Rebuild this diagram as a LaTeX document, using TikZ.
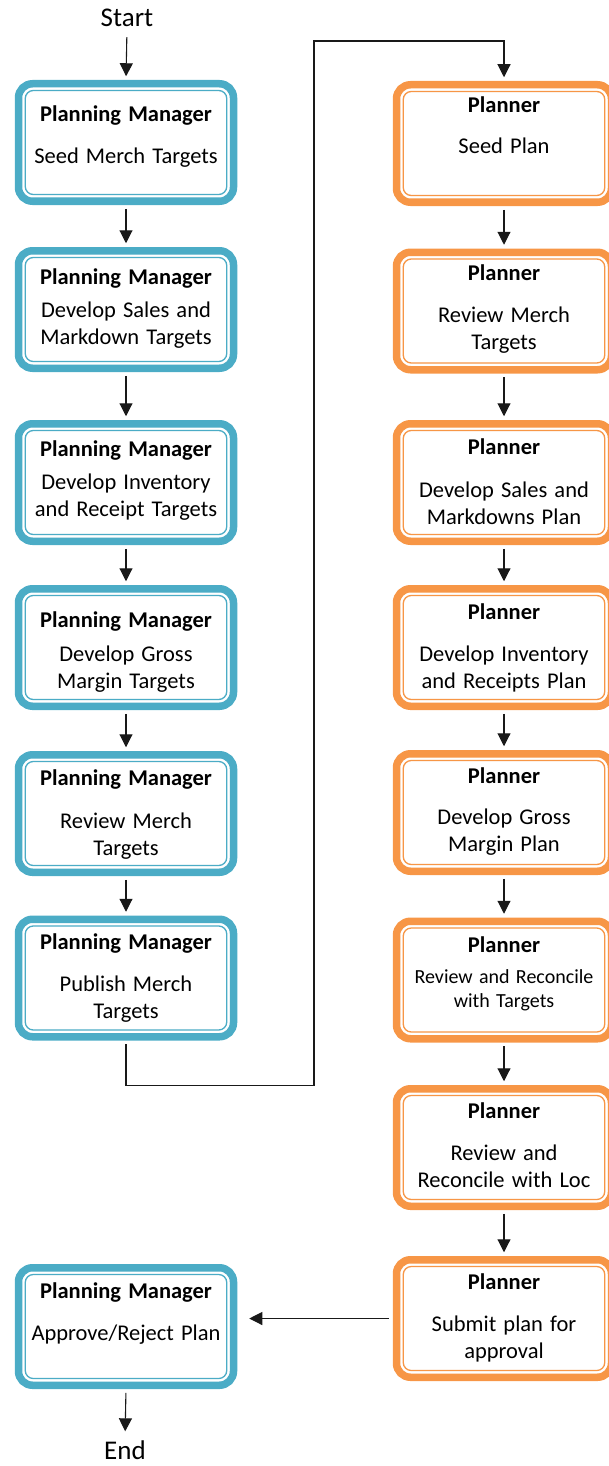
\documentclass[tikz,border=0pt]{standalone}
\usepackage{fontspec}
\setmainfont{Carlito}[WordSpace=1.4]
\usepackage{tikz}
\usetikzlibrary{arrows.meta}

\definecolor{mgrblue}{HTML}{4BACC6}
\definecolor{planorange}{HTML}{F79646}

% top space, title, gap, body
\newcommand{\boxtext}[4]{%
\begin{minipage}[c][117.5pt][t]{215pt}\centering
\vspace*{#1}\strut\textbf{#2}\\[#3]#4
\end{minipage}}

\begin{document}
\begin{tikzpicture}[x=1pt,y=-1pt]
\tikzstyle{stage} = [rectangle, rounded corners=14pt, line width=7.5pt, fill=white, inner sep=0pt, font=\fontsize{22.5}{27}\selectfont]
\tikzstyle{manager} = [stage, draw=mgrblue,
    path picture={\draw[line width=1.3pt, rounded corners=8pt, draw=mgrblue, fill=none]
        ([shift={(6.75pt,-6.75pt)}]path picture bounding box.north west) rectangle
        ([shift={(-6.75pt,6.75pt)}]path picture bounding box.south east);}]
\tikzstyle{planner} = [stage, draw=planorange,
    path picture={\draw[line width=1.3pt, rounded corners=8pt, draw=planorange, fill=none]
        ([shift={(6.75pt,-6.75pt)}]path picture bounding box.north west) rectangle
        ([shift={(-6.75pt,6.75pt)}]path picture bounding box.south east);}]
\tikzstyle{flow} = [draw=black!90, line width=1.1pt, -{Triangle[length=13pt,width=13pt]}, shorten <=3.75pt, shorten >=3.75pt]
\tikzstyle{term} = [font=\fontsize{27}{30}\selectfont, inner sep=1pt]

\useasboundingbox (0,0) rectangle (608,1466);

\node[term] (start) at (127,18) {Start};
\node[term] (end) at (125,1450) {End};

%manager column
\node[manager] (mgr1) at (126,142.5) {\boxtext{19pt}{Planning Manager}{15pt}{Seed Merch Targets}};
\node[manager] (mgr2) at (126,309.5) {\boxtext{15pt}{Planning Manager}{6pt}{Develop Sales and\\Markdown Targets}};
\node[manager] (mgr3) at (126,482.5) {\boxtext{14pt}{Planning Manager}{6pt}{Develop Inventory\\and Receipt Targets}};
\node[manager] (mgr4) at (126,647.5) {\boxtext{20pt}{Planning Manager}{7pt}{Develop Gross\\Margin Targets}};
\node[manager] (mgr5) at (126,813.5) {\boxtext{12pt}{Planning Manager}{16pt}{Review Merch\\Targets}};
\node[manager] (mgr6) at (126,978) {\boxtext{11pt}{Planning Manager}{15pt}{Publish Merch\\Targets}};
\node[manager] (mgr7) at (126,1326.5) {\boxtext{12pt}{Planning Manager}{15pt}{Approve/Reject Plan}};

%planner column
\node[planner] (plan1) at (504,143.5) {\boxtext{9pt}{Planner}{14pt}{Seed Plan}};
\node[planner] (plan2) at (504,311) {\boxtext{9pt}{Planner}{15pt}{Review Merch\\Targets}};
\node[planner] (plan3) at (504,482.5) {\boxtext{12pt}{Planner}{16pt}{Develop Sales and\\Markdowns Plan}};
\node[planner] (plan4) at (504,647.5) {\boxtext{12pt}{Planner}{15pt}{Develop Inventory\\and Receipts Plan}};
\node[planner] (plan5) at (504,812.5) {\boxtext{11pt}{Planner}{14pt}{Develop Gross\\Margin Plan}};
\node[planner] (plan6) at (504,980) {\boxtext{12pt}{Planner}{7pt}{\fontsize{20}{24}\selectfont Review and Reconcile\\with Targets}};
\node[planner] (plan7) at (504,1147.5) {\boxtext{11pt}{Planner}{15pt}{Review and\\Reconcile with Loc}};
\node[planner] (plan8) at (504,1318.5) {\boxtext{11pt}{Planner}{15pt}{Submit plan for\\approval}};

\coordinate (loop) at (314,41);

\draw[flow, shorten <=9pt] (start.south) -- (mgr1.north);
\draw[flow] (mgr1.south) -- (mgr2.north);
\draw[flow] (mgr2.south) -- (mgr3.north);
\draw[flow] (mgr3.south) -- (mgr4.north);
\draw[flow] (mgr4.south) -- (mgr5.north);
\draw[flow] (mgr5.south) -- (mgr6.north);
\draw[flow] (mgr6.south) -- ++(0,45) -| (loop) -| (plan1.north);
\draw[flow] (plan1.south) -- (plan2.north);
\draw[flow] (plan2.south) -- (plan3.north);
\draw[flow] (plan3.south) -- (plan4.north);
\draw[flow] (plan4.south) -- (plan5.north);
\draw[flow] (plan5.south) -- (plan6.north);
\draw[flow] (plan6.south) -- (plan7.north);
\draw[flow] (plan7.south) -- (plan8.north);
\draw[flow, shorten >=12pt] (plan8.west) -- (plan8.west -| mgr7.east);
\draw[flow, shorten >=8pt] (mgr7.south) -- (end.north);
\end{tikzpicture}
\end{document}
